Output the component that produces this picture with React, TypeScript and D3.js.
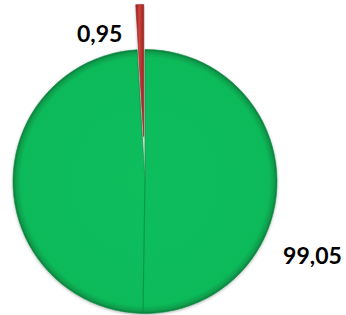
import { useEffect, useRef } from 'react'
import * as d3 from 'd3'

// slice values, in drawing order (clockwise from 12 o'clock)
const categories = ['Verde', 'Rosso']
const values = [99.05, 0.95]
const valueLabels = ['99,05', '0,95']
const colors = ['#0dbb5b', '#c0312c']
const explodeBy = [0, 45]

export default function App() {
  const svgRef = useRef<SVGSVGElement>(null)

  useEffect(() => {
    if (!svgRef.current) return

    const width = 346
    const height = 315
    const cx = 145
    const cy = 181.5
    const radius = 132

    const svg = d3.select(svgRef.current)
    svg.selectAll('*').remove()
    svg.attr('width', width).attr('height', height)

    const defs = svg.append('defs')

    // soft bevel look, like the office chart
    const green = defs.append('radialGradient')
      .attr('id', 'g-green')
      .attr('cx', '50%').attr('cy', '50%').attr('r', '50%')
    green.append('stop').attr('offset', '0%').attr('stop-color', '#0ebe5d')
    green.append('stop').attr('offset', '94%').attr('stop-color', '#0cba5a')
    green.append('stop').attr('offset', '98%').attr('stop-color', '#0a9f4c')
    green.append('stop').attr('offset', '100%').attr('stop-color', '#077a3a')

    const red = defs.append('linearGradient')
      .attr('id', 'g-red')
      .attr('x1', '0%').attr('x2', '100%').attr('y1', '0%').attr('y2', '0%')
    red.append('stop').attr('offset', '0%').attr('stop-color', '#8e1f1b')
    red.append('stop').attr('offset', '45%').attr('stop-color', '#d0433d')
    red.append('stop').attr('offset', '100%').attr('stop-color', '#9a2420')

    const shadow = defs.append('filter')
      .attr('id', 'shadow')
      .attr('x', '-10%').attr('y', '-10%').attr('width', '120%').attr('height', '120%')
    shadow.append('feDropShadow')
      .attr('dx', 0).attr('dy', 1)
      .attr('stdDeviation', 1.5)
      .attr('flood-color', '#000')
      .attr('flood-opacity', 0.3)

    const pie = d3.pie<number>().sort(null).value(d => d)
    const arcs = pie(values)
    const arc = d3.arc<d3.PieArcDatum<number>>().innerRadius(0).outerRadius(radius)

    const g = svg.append('g').attr('transform', `translate(${cx},${cy})`)

    const offset = (d: d3.PieArcDatum<number>, dist: number) => {
      const mid = (d.startAngle + d.endAngle) / 2
      return [Math.sin(mid) * dist, -Math.cos(mid) * dist]
    }

    const fills = ['url(#g-green)', 'url(#g-red)']

    g.selectAll('.slice')
      .data(arcs)
      .enter()
      .append('path')
      .attr('class', 'slice')
      .attr('d', arc)
      .attr('transform', (d, i) => {
        const [dx, dy] = offset(d, explodeBy[i])
        return `translate(${dx},${dy})`
      })
      .style('fill', (d, i) => fills[i])
      .style('stroke', (d, i) => d3.color(colors[i])!.darker(0.8).formatHex())
      .style('stroke-width', '0.6px')
      .style('filter', 'url(#shadow)')
      .append('title')
      .text((d, i) => categories[i])

    // bevel seam down the large slice
    const seamAngle = Math.PI
    g.append('line')
      .attr('x1', 0).attr('y1', 0)
      .attr('x2', Math.sin(seamAngle) * (radius - 1) - 2)
      .attr('y2', -Math.cos(seamAngle) * (radius - 1))
      .style('stroke', '#078a40')
      .style('stroke-width', '1.2px')
      .style('stroke-opacity', 0.7)

    // data labels
    const labelFont = 'Lato, "Open Sans", sans-serif'
    arcs.forEach((d, i) => {
      let x: number
      let y: number
      if (i === 1) {
        const [ox, oy] = offset(d, radius + explodeBy[i])
        x = ox - 40
        y = oy + 37
      } else {
        const a = (110 * Math.PI) / 180
        x = Math.sin(a) * radius * 1.35
        y = -Math.cos(a) * radius * 1.35 + 22
      }
      g.append('text')
        .attr('x', x)
        .attr('y', y)
        .style('text-anchor', 'middle')
        .style('font-family', labelFont)
        .style('font-size', '23px')
        .style('font-weight', '700')
        .style('fill', '#000')
        .text(valueLabels[i])
    })
  }, [])

  return (
    <div style={{ position: 'absolute', left: 0, top: 0, width: 346, height: 315, background: '#fff' }}>
      <svg ref={svgRef} style={{ display: 'block' }}></svg>
    </div>
  )
}
